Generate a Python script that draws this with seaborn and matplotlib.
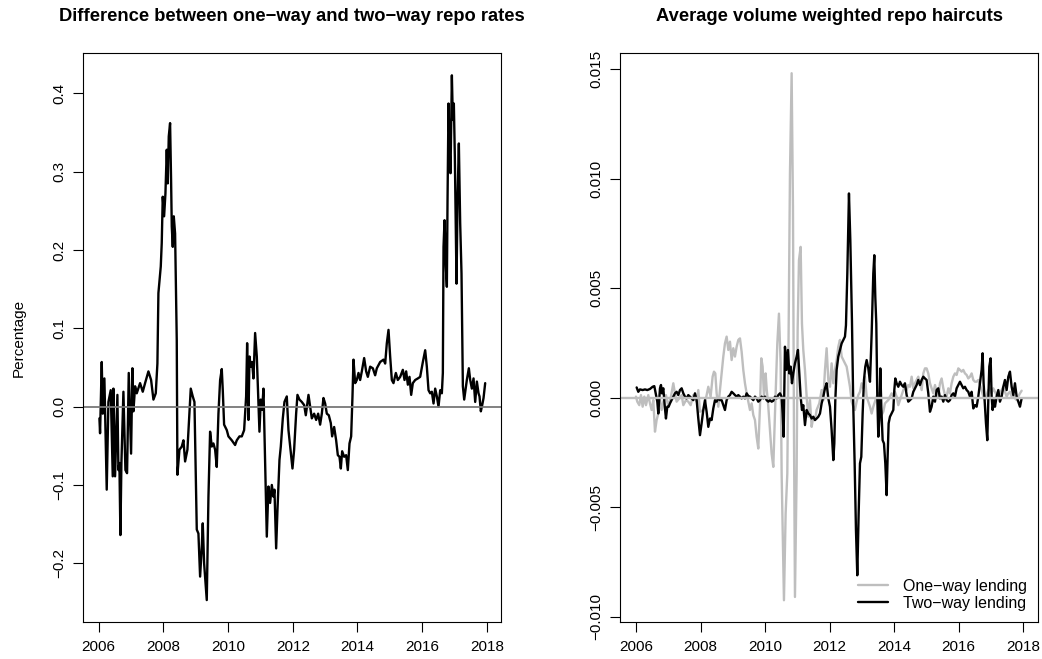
import numpy as np
import matplotlib
matplotlib.use("Agg")
import matplotlib.pyplot as plt
import seaborn as sns

# Left panel: difference between one-way and two-way repo rates (percentage)
rate_years = [
    2006.021, 2006.041, 2006.093, 2006.124, 2006.175, 2006.247, 2006.299, 2006.371, 2006.433, 2006.454,
    2006.505, 2006.577, 2006.608, 2006.639, 2006.670, 2006.701, 2006.763, 2006.825, 2006.876, 2006.928,
    2007.000, 2007.041, 2007.072, 2007.124, 2007.175, 2007.278, 2007.361, 2007.433, 2007.536, 2007.619,
    2007.691, 2007.763, 2007.814, 2007.845, 2007.918, 2007.948, 2007.979, 2008.021, 2008.062, 2008.103,
    2008.134, 2008.165, 2008.206, 2008.237, 2008.258, 2008.289, 2008.320, 2008.361, 2008.412, 2008.433,
    2008.495, 2008.567, 2008.619, 2008.670, 2008.742, 2008.804, 2008.845, 2008.907, 2008.959, 2009.031,
    2009.082, 2009.134, 2009.186, 2009.216, 2009.258, 2009.340, 2009.392, 2009.443, 2009.495, 2009.546,
    2009.598, 2009.649, 2009.701, 2009.753, 2009.804, 2009.835, 2009.876, 2009.959, 2010.010, 2010.113,
    2010.216, 2010.268, 2010.351, 2010.423, 2010.495, 2010.557, 2010.588, 2010.629, 2010.660, 2010.701,
    2010.742, 2010.784, 2010.835, 2010.887, 2010.938, 2010.969, 2011.010, 2011.052, 2011.093, 2011.144,
    2011.196, 2011.247, 2011.299, 2011.351, 2011.402, 2011.433, 2011.485, 2011.526, 2011.588, 2011.629,
    2011.691, 2011.742, 2011.814, 2011.866, 2011.918, 2011.990, 2012.041, 2012.103, 2012.144, 2012.206,
    2012.278, 2012.351, 2012.402, 2012.485, 2012.536, 2012.588, 2012.660, 2012.722, 2012.784, 2012.845,
    2012.897, 2012.948, 2013.000, 2013.052, 2013.113, 2013.175, 2013.216, 2013.278, 2013.340, 2013.392,
    2013.443, 2013.485, 2013.526, 2013.588, 2013.649, 2013.701, 2013.753, 2013.804, 2013.845, 2013.876,
    2013.928, 2013.979, 2014.031, 2014.082, 2014.134, 2014.206, 2014.268, 2014.320, 2014.392, 2014.474,
    2014.546, 2014.598, 2014.701, 2014.804, 2014.856, 2014.907, 2014.959, 2015.010, 2015.062, 2015.113,
    2015.186, 2015.247, 2015.320, 2015.402, 2015.454, 2015.505, 2015.557, 2015.608, 2015.660, 2015.711,
    2015.784, 2015.866, 2015.938, 2016.021, 2016.093, 2016.144, 2016.196, 2016.247, 2016.299, 2016.351,
    2016.402, 2016.454, 2016.505, 2016.557, 2016.608, 2016.639, 2016.660, 2016.691, 2016.732, 2016.763,
    2016.784, 2016.814, 2016.845, 2016.876, 2016.918, 2016.948, 2016.979, 2017.010, 2017.041, 2017.062,
    2017.093, 2017.134, 2017.175, 2017.216, 2017.258, 2017.299, 2017.340, 2017.381, 2017.443, 2017.485,
    2017.536, 2017.588, 2017.639, 2017.691, 2017.742, 2017.773, 2017.814, 2017.856, 2017.897, 2017.948,
]
rate_diff = [
    -0.015, -0.034, 0.057, -0.009, 0.036, -0.106, 0.006, 0.021, -0.089, 0.023,
    -0.089, 0.015, -0.081, -0.072, -0.164, -0.072, 0.019, -0.081, -0.085, 0.043,
    -0.060, 0.049, -0.006, 0.026, 0.017, 0.030, 0.019, 0.030, 0.045, 0.034,
    0.009, 0.017, 0.055, 0.145, 0.179, 0.209, 0.268, 0.243, 0.272, 0.328,
    0.285, 0.345, 0.362, 0.289, 0.230, 0.204, 0.243, 0.221, 0.085, -0.087,
    -0.055, -0.051, -0.043, -0.070, -0.055, -0.009, 0.023, 0.013, 0.006, -0.157,
    -0.162, -0.217, -0.179, -0.149, -0.200, -0.247, -0.115, -0.032, -0.051, -0.047,
    -0.055, -0.077, -0.009, 0.034, 0.048, 0.021, -0.023, -0.030, -0.038, -0.043,
    -0.049, -0.043, -0.038, -0.038, -0.030, 0.013, 0.081, -0.017, 0.064, 0.051,
    0.057, 0.036, 0.094, 0.064, 0.004, -0.032, 0.009, -0.004, 0.023, -0.072,
    -0.166, -0.102, -0.123, -0.100, -0.115, -0.106, -0.181, -0.132, -0.068, -0.051,
    -0.015, 0.006, 0.013, -0.030, -0.051, -0.079, -0.055, -0.009, 0.015, 0.009,
    0.006, 0.002, -0.011, 0.015, 0.000, -0.015, -0.009, -0.017, -0.009, -0.023,
    -0.009, 0.011, 0.004, -0.009, -0.011, -0.021, -0.038, -0.026, -0.043, -0.062,
    -0.064, -0.079, -0.057, -0.064, -0.062, -0.081, -0.047, -0.038, 0.013, 0.060,
    0.030, 0.034, 0.043, 0.034, 0.045, 0.062, 0.045, 0.038, 0.051, 0.049,
    0.040, 0.049, 0.057, 0.060, 0.055, 0.081, 0.098, 0.064, 0.034, 0.030,
    0.043, 0.034, 0.038, 0.047, 0.034, 0.045, 0.028, 0.038, 0.015, 0.030,
    0.034, 0.036, 0.038, 0.057, 0.072, 0.051, 0.021, 0.017, 0.019, 0.004,
    0.023, 0.013, 0.000, 0.021, 0.017, 0.043, 0.204, 0.238, 0.179, 0.153,
    0.264, 0.387, 0.332, 0.298, 0.423, 0.366, 0.387, 0.319, 0.217, 0.157,
    0.264, 0.336, 0.234, 0.170, 0.026, 0.009, 0.021, 0.034, 0.049, 0.034,
    0.023, 0.036, 0.006, 0.032, 0.017, 0.013, -0.006, 0.002, 0.011, 0.030,
]

# Right panel: average volume weighted haircuts, in thousandths
one_way_years = [
    2006.000, 2006.041, 2006.103, 2006.155, 2006.207, 2006.258, 2006.310, 2006.382, 2006.434, 2006.485,
    2006.537, 2006.589, 2006.640, 2006.692, 2006.744, 2006.795, 2006.847, 2006.929, 2007.002, 2007.084,
    2007.157, 2007.208, 2007.260, 2007.343, 2007.415, 2007.467, 2007.549, 2007.621, 2007.694, 2007.776,
    2007.880, 2007.931, 2007.983, 2008.086, 2008.169, 2008.241, 2008.313, 2008.375, 2008.417, 2008.458,
    2008.499, 2008.551, 2008.602, 2008.654, 2008.706, 2008.757, 2008.809, 2008.861, 2008.912, 2008.964,
    2009.016, 2009.067, 2009.119, 2009.171, 2009.222, 2009.274, 2009.325, 2009.377, 2009.429, 2009.480,
    2009.532, 2009.584, 2009.635, 2009.687, 2009.738, 2009.790, 2009.842, 2009.883, 2009.924, 2009.966,
    2010.017, 2010.048, 2010.100, 2010.152, 2010.203, 2010.255, 2010.307, 2010.379, 2010.430, 2010.482,
    2010.513, 2010.585, 2010.637, 2010.689, 2010.730, 2010.771, 2010.823, 2010.864, 2010.895, 2010.926,
    2010.978, 2011.009, 2011.050, 2011.102, 2011.143, 2011.184, 2011.236, 2011.288, 2011.339, 2011.391,
    2011.443, 2011.494, 2011.546, 2011.597, 2011.680, 2011.752, 2011.804, 2011.856, 2011.907, 2011.959,
    2012.011, 2012.062, 2012.114, 2012.165, 2012.217, 2012.269, 2012.320, 2012.372, 2012.424, 2012.475,
    2012.527, 2012.579, 2012.630, 2012.682, 2012.733, 2012.785, 2012.837, 2012.888, 2012.940, 2012.992,
    2013.043, 2013.095, 2013.147, 2013.198, 2013.250, 2013.302, 2013.353, 2013.405, 2013.456, 2013.508,
    2013.560, 2013.611, 2013.663, 2013.715, 2013.766, 2013.818, 2013.869, 2013.921, 2013.973, 2014.024,
    2014.076, 2014.128, 2014.179, 2014.231, 2014.283, 2014.334, 2014.386, 2014.437, 2014.489, 2014.541,
    2014.592, 2014.644, 2014.696, 2014.747, 2014.799, 2014.851, 2014.902, 2014.954, 2015.005, 2015.057,
    2015.109, 2015.160, 2015.212, 2015.264, 2015.315, 2015.367, 2015.419, 2015.470, 2015.522, 2015.573,
    2015.625, 2015.677, 2015.728, 2015.780, 2015.832, 2015.883, 2015.935, 2015.987, 2016.038, 2016.090,
    2016.141, 2016.193, 2016.245, 2016.296, 2016.348, 2016.400, 2016.451, 2016.503, 2016.555, 2016.606,
    2016.658, 2016.709, 2016.761, 2016.813, 2016.864, 2016.916, 2016.968, 2017.019, 2017.071, 2017.123,
    2017.174, 2017.226, 2017.277, 2017.329, 2017.381, 2017.432, 2017.484, 2017.536, 2017.587, 2017.639,
    2017.691, 2017.742, 2017.794, 2017.845, 2017.897, 2017.949,
]
one_way_haircut = [
    0.05, -0.18, -0.34, 0.12, -0.41, 0.05, -0.34, 0.12, -0.26, -0.56,
    -0.11, -1.55, -1.02, -0.72, -0.11, -0.56, -0.18, 0.12, -0.41, 0.05,
    0.66, 0.20, -0.18, -0.03, 0.12, -0.34, -0.11, -0.18, -0.34, 0.12,
    -0.18, 0.35, -0.64, -0.56, -0.03, 0.50, 0.05, 0.96, 1.19, 1.11,
    0.20, -0.41, 0.35, 1.11, 1.88, 2.48, 2.79, 2.18, 2.56, 1.72,
    2.26, 1.88, 2.33, 2.64, 2.71, 2.10, 1.27, 0.66, 0.20, -0.18,
    -0.56, -0.26, -0.79, -1.02, -1.78, -2.32, -0.41, 1.80, 1.42, 0.05,
    1.11, 0.43, -0.41, -1.48, -2.55, -3.16, -0.72, 2.48, 3.84, 1.57,
    -3.46, -9.25, -5.29, -3.46, 3.09, 10.24, 14.82, 8.72, -1.48, -9.10,
    -3.46, 3.09, 6.28, 6.89, 3.38, 2.18, 1.27, 0.05, -0.87, -0.11,
    -1.33, -0.87, -1.02, -0.56, -0.26, 0.35, -0.11, 1.27, 2.26, 0.81,
    0.50, 1.57, 0.66, 1.27, 1.72, 2.33, 2.64, 1.88, 1.72, 1.57,
    1.42, 0.96, 0.50, -0.18, -0.41, -0.56, -0.18, 0.12, 0.27, 0.66,
    0.43, 0.96, 0.05, -0.18, -0.41, -0.72, -0.41, -0.18, 0.05, 0.20,
    -0.34, -0.79, -0.64, -0.26, -0.18, -0.11, 0.05, 0.20, 0.05, 0.27,
    0.05, -0.34, -0.11, 0.12, 0.35, 0.50, 0.35, 0.58, 0.50, 0.96,
    0.43, 0.66, 0.81, 0.96, 0.66, 0.35, 1.11, 1.34, 1.34, 1.11,
    0.66, 0.43, 0.20, 0.58, 0.27, 0.05, 0.66, 0.88, 0.43, 0.12,
    0.05, 0.43, 0.20, 0.66, 0.96, 1.11, 1.04, 1.34, 1.27, 1.19,
    1.27, 1.11, 1.04, 0.88, 0.96, 1.11, 0.81, 0.73, 0.73, 0.81,
    0.58, 0.35, 0.05, -0.11, 0.12, 0.35, 0.43, 0.20, 0.43, 0.27,
    0.12, 0.27, 0.20, 0.35, 0.50, 0.27, 0.05, 0.20, 0.27, 0.05,
    0.12, -0.03, -0.11, 0.05, 0.20, 0.32,
]
two_way_years = [
    2006.021, 2006.072, 2006.124, 2006.207, 2006.279, 2006.351, 2006.434, 2006.516, 2006.568, 2006.620,
    2006.661, 2006.692, 2006.744, 2006.775, 2006.806, 2006.847, 2006.898, 2006.929, 2006.971, 2007.012,
    2007.053, 2007.105, 2007.157, 2007.208, 2007.260, 2007.312, 2007.363, 2007.415, 2007.467, 2007.518,
    2007.570, 2007.621, 2007.673, 2007.725, 2007.776, 2007.828, 2007.880, 2007.931, 2007.983, 2008.034,
    2008.086, 2008.138, 2008.189, 2008.241, 2008.293, 2008.344, 2008.396, 2008.448, 2008.499, 2008.551,
    2008.602, 2008.654, 2008.706, 2008.757, 2008.809, 2008.861, 2008.912, 2008.964, 2009.016, 2009.067,
    2009.119, 2009.171, 2009.222, 2009.274, 2009.325, 2009.377, 2009.429, 2009.480, 2009.532, 2009.584,
    2009.635, 2009.687, 2009.738, 2009.790, 2009.842, 2009.893, 2009.945, 2009.997, 2010.048, 2010.100,
    2010.152, 2010.203, 2010.255, 2010.307, 2010.358, 2010.410, 2010.461, 2010.513, 2010.544, 2010.575,
    2010.616, 2010.668, 2010.709, 2010.751, 2010.792, 2010.833, 2010.874, 2010.926, 2010.978, 2011.019,
    2011.060, 2011.102, 2011.143, 2011.184, 2011.236, 2011.288, 2011.339, 2011.391, 2011.443, 2011.494,
    2011.546, 2011.597, 2011.649, 2011.701, 2011.752, 2011.804, 2011.856, 2011.907, 2011.959, 2012.011,
    2012.062, 2012.114, 2012.145, 2012.176, 2012.217, 2012.269, 2012.320, 2012.372, 2012.424, 2012.475,
    2012.506, 2012.548, 2012.599, 2012.641, 2012.692, 2012.733, 2012.775, 2012.816, 2012.857, 2012.899,
    2012.940, 2012.981, 2013.023, 2013.064, 2013.105, 2013.147, 2013.198, 2013.250, 2013.302, 2013.353,
    2013.384, 2013.415, 2013.446, 2013.477, 2013.508, 2013.539, 2013.570, 2013.601, 2013.642, 2013.684,
    2013.725, 2013.766, 2013.797, 2013.828, 2013.869, 2013.921, 2013.973, 2014.004, 2014.035, 2014.076,
    2014.128, 2014.179, 2014.231, 2014.283, 2014.334, 2014.386, 2014.437, 2014.489, 2014.541, 2014.592,
    2014.644, 2014.696, 2014.747, 2014.799, 2014.851, 2014.902, 2014.954, 2015.005, 2015.057, 2015.109,
    2015.160, 2015.212, 2015.264, 2015.315, 2015.367, 2015.419, 2015.470, 2015.522, 2015.573, 2015.625,
    2015.677, 2015.728, 2015.780, 2015.832, 2015.883, 2015.935, 2015.987, 2016.038, 2016.090, 2016.141,
    2016.193, 2016.245, 2016.296, 2016.348, 2016.400, 2016.451, 2016.503, 2016.555, 2016.606, 2016.658,
    2016.709, 2016.740, 2016.771, 2016.813, 2016.844, 2016.885, 2016.916, 2016.947, 2016.988, 2017.019,
    2017.050, 2017.091, 2017.123, 2017.174, 2017.226, 2017.277, 2017.329, 2017.381, 2017.432, 2017.484,
    2017.536, 2017.587, 2017.639, 2017.691, 2017.742, 2017.794, 2017.845, 2017.897, 2017.949,
]
two_way_haircut = [
    0.47, 0.27, 0.38, 0.35, 0.38, 0.35, 0.40, 0.50, 0.53, 0.12,
    -0.18, -0.72, 0.43, 0.58, 0.20, 0.43, -0.49, -0.95, -0.41, -0.41,
    -0.26, -0.11, 0.05, 0.20, 0.27, 0.12, 0.35, 0.43, 0.20, 0.05,
    -0.03, 0.12, 0.05, -0.03, -0.11, 0.20, -0.11, -0.95, -1.71, -1.17,
    -0.56, -0.11, -0.64, -1.33, -0.95, -1.02, -0.49, -0.11, -0.18, -0.03,
    -0.11, -0.11, -0.34, -0.56, -0.11, 0.05, 0.12, 0.27, 0.20, 0.12,
    0.05, 0.12, 0.05, -0.03, 0.05, -0.03, 0.20, 0.08, 0.05, -0.03,
    -0.11, 0.05, -0.03, -0.18, -0.11, 0.05, -0.03, 0.05, -0.11, -0.18,
    -0.11, -0.18, -0.14, 0.05, -0.03, 0.12, 0.20, 0.05, -0.72, -1.78,
    2.33, 1.27, 2.18, 1.11, 1.42, 0.66, 1.11, 1.57, 1.88, 2.18,
    1.11, 0.05, -0.56, -0.34, -1.25, -0.56, -0.72, -0.79, -0.95, -0.87,
    -1.02, -0.95, -0.87, -0.72, -0.26, 0.05, 0.43, 0.66, -0.03, -0.41,
    -1.48, -2.85, -2.09, -0.11, 1.27, 1.88, 2.18, 2.48, 2.64, 2.79,
    3.31, 5.67, 9.33, 7.20, 3.50, -0.41, -3.00, -6.05, -8.11, -5.29,
    -3.00, -2.70, -0.72, 0.81, 1.42, 1.72, 1.34, 0.73, 2.93, 5.67,
    6.51, 4.60, 3.38, 0.05, -1.78, -1.02, 1.34, -0.41, -1.94, -2.09,
    -3.00, -4.45, -2.70, -1.17, -0.87, -0.72, -0.56, 0.35, 0.88, 0.66,
    0.50, 0.73, 0.58, 0.50, 0.66, 0.12, -0.18, -0.11, -0.03, 0.27,
    0.43, 0.58, 0.81, 0.58, 0.81, 0.96, 0.88, 0.81, 0.20, -0.64,
    -0.41, 0.05, -0.18, 0.35, 0.43, -0.03, 0.05, -0.18, 0.12, -0.11,
    -0.18, -0.11, 0.12, 0.20, 0.05, 0.43, 0.58, 0.73, 0.58, 0.43,
    0.50, 0.35, 0.27, 0.05, 0.27, -0.49, -0.34, -0.41, 0.05, 0.66,
    1.27, 2.03, 0.66, -0.41, -1.17, -1.94, -0.11, 1.42, 1.80, 0.05,
    -0.56, -0.11, -0.41, 0.05, 0.35, -0.18, 0.05, 0.50, 0.81, 0.35,
    0.96, 1.19, 0.50, 0.12, 0.66, 0.05, -0.18, -0.41, -0.03,
]

year_ticks = [2006, 2008, 2010, 2012, 2014, 2016, 2018]
left_ticks = [-0.2, -0.1, 0.0, 0.1, 0.2, 0.3, 0.4]
right_ticks = [-0.010, -0.005, 0.000, 0.005, 0.010, 0.015]

sns.set_style("ticks")
plt.rcParams['font.family'] = ['Liberation Sans', 'DejaVu Sans']
plt.rcParams['text.color'] = 'black'
plt.rcParams['axes.labelcolor'] = 'black'
plt.rcParams['xtick.color'] = 'black'
plt.rcParams['ytick.color'] = 'black'

fig = plt.figure(figsize=(10.42, 6.59), dpi=100)
ax1 = fig.add_axes([0.0797, 0.0566, 0.4012, 0.8625])
ax2 = fig.add_axes([0.595, 0.0566, 0.4016, 0.8625])

# left panel
sns.lineplot(x=rate_years, y=rate_diff, ax=ax1, color='black', lw=1.7,
             estimator=None, sort=False)
ax1.axhline(0, color='#777777', lw=1.3)
ax1.set_xlim(2005.515, 2018.44)
ax1.set_ylim(-0.2746, 0.4511)
ax1.set_yticks(left_ticks)
ax1.set_yticklabels([f"{t:.1f}".replace('-', '\u2212') for t in left_ticks])
ax1.set_title('Difference between one\u2212way and two\u2212way repo rates',
              fontsize=13.2, fontweight='bold', pad=23, color='black')
ax1.set_ylabel('Percentage', fontsize=11)
ax1.yaxis.set_label_coords(-0.138, 0.5)

# right panel
one_way = np.array(one_way_haircut) / 1000
two_way = np.array(two_way_haircut) / 1000
sns.lineplot(x=one_way_years, y=one_way, ax=ax2, color='#BEBEBE', lw=1.7,
             estimator=None, sort=False, label='One\u2212way lending')
sns.lineplot(x=two_way_years, y=two_way, ax=ax2, color='black', lw=1.7,
             estimator=None, sort=False, label='Two\u2212way lending')
ax2.axhline(0, color='#BEBEBE', lw=1.7)
ax2.set_xlim(2005.505, 2018.47)
ax2.set_ylim(-0.01023, 0.01573)
ax2.set_yticks(right_ticks)
ax2.set_yticklabels([f"{t:.3f}".replace('-', '\u2212') for t in right_ticks])
ax2.set_title('Average volume weighted repo haircuts',
              fontsize=13.2, fontweight='bold', pad=23, color='black')
ax2.set_ylabel('')
ax2.legend(loc='lower right', frameon=False, fontsize=11.5, handlelength=1.9,
           handletextpad=0.95, labelspacing=0.12, borderaxespad=0.3)

for ax in (ax1, ax2):
    ax.set_xticks(year_ticks)
    ax.set_xlabel('')
    for s in ax.spines.values():
        s.set_visible(True)
        s.set_color('black')
        s.set_linewidth(0.8)
    ax.tick_params(axis='both', direction='out', length=7, width=0.8,
                   labelsize=11, color='black', labelcolor='black')
    ax.tick_params(axis='x', pad=6)
    ax.tick_params(axis='y', pad=5)
    for lab in ax.get_yticklabels():
        lab.set_rotation(90)
        lab.set_va('center')

fig.savefig('out.png', dpi=100)
